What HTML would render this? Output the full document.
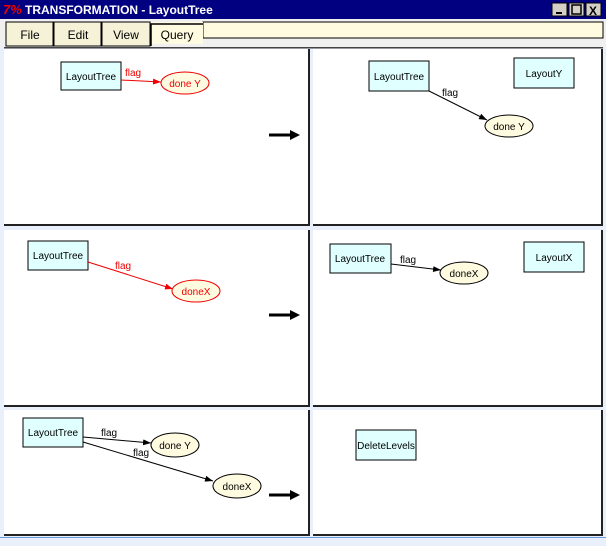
<!DOCTYPE html>
<html><head><style>
body{margin:0;width:606px;height:541px;overflow:hidden;background:#eaf0fb;font-family:"Liberation Sans",sans-serif;}
</style></head><body>
<svg width="606" height="541" xmlns="http://www.w3.org/2000/svg" font-family="Liberation Sans, sans-serif">
<defs>
<marker id="ab" markerWidth="8" markerHeight="6" refX="8" refY="3" orient="auto" markerUnits="userSpaceOnUse"><path d="M0,0L8,3L0,6z" fill="#000"/></marker>
<marker id="ar" markerWidth="8" markerHeight="6" refX="8" refY="3" orient="auto" markerUnits="userSpaceOnUse"><path d="M0,0L8,3L0,6z" fill="#e00"/></marker>
</defs>
<rect x="0" y="0" width="606" height="541" fill="#eaf0fb"/>
<!-- title bar -->
<rect x="0" y="0" width="606" height="19" fill="#000080"/>
<text x="3" y="14" font-size="13" font-weight="bold" fill="#e00" font-style="italic">7%</text>
<text x="25" y="14" font-size="12" font-weight="bold" fill="#fff">TRANSFORMATION - LayoutTree</text>
<g stroke="#000" fill="#d4d0c8">
<rect x="552" y="3" width="15" height="13"/><rect x="569" y="3" width="15" height="13"/><rect x="586" y="3" width="15" height="13"/>
</g>
<rect x="556" y="12" width="6" height="2" fill="#000"/>
<rect x="572" y="5" width="9" height="9" fill="none" stroke="#000" stroke-width="1.5"/>
<text x="589" y="15" font-size="12" font-weight="bold">X</text>
<!-- menu -->
<rect x="0" y="19" width="606" height="29" fill="#f0f0f0"/>
<rect x="203" y="22" width="400" height="16" fill="#fffbe0" stroke="#000" stroke-width="1"/>
<g fill="#f5f2d8" stroke="#000">
<rect x="6" y="22" width="47" height="24"/><rect x="54" y="22" width="47" height="24"/><rect x="102" y="22" width="48" height="24"/>
</g>
<rect x="151" y="22" width="52" height="22" fill="#fffbe0"/>
<path d="M151,46V24H203" fill="none" stroke="#000" stroke-width="1.5"/>
<g font-size="12" text-anchor="middle" fill="#000">
<text x="30" y="39">File</text><text x="78" y="39">Edit</text><text x="126" y="39">View</text><text x="177" y="39">Query</text>
</g>
<rect x="4" y="47" width="599" height="1.5" fill="#444"/>
<!-- panels -->
<g fill="#fff" stroke="#222" stroke-width="2">
<rect x="5" y="50" width="304" height="175"/>
<rect x="314" y="50" width="288" height="175"/>
<rect x="5" y="231" width="304" height="175"/>
<rect x="314" y="231" width="288" height="175"/>
<rect x="5" y="411" width="304" height="124"/>
<rect x="314" y="411" width="288" height="124"/>
</g>
<g fill="#fff">
<rect x="4" y="49" width="304" height="175"/><rect x="313" y="49" width="288" height="175"/>
<rect x="4" y="230" width="304" height="175"/><rect x="313" y="230" width="288" height="175"/>
<rect x="4" y="410" width="304" height="124"/><rect x="313" y="410" width="288" height="124"/>
</g>
<rect x="0" y="537" width="606" height="1" fill="#6a9be0"/>
<!-- big arrows -->
<g stroke="#000" stroke-width="3"><line x1="269" y1="135" x2="292" y2="135"/><line x1="269" y1="315" x2="292" y2="315"/><line x1="269" y1="495" x2="292" y2="495"/></g>
<g fill="#000"><path d="M290,130L300,135L290,140z"/><path d="M290,310L300,315L290,320z"/><path d="M290,490L300,495L290,500z"/></g>
<g font-size="10" text-anchor="middle">
<!-- panel 1 -->
<rect x="61" y="62" width="60" height="28" fill="#e0ffff" stroke="#000"/>
<text x="91" y="80">LayoutTree</text>
<line x1="121" y1="80" x2="161" y2="82" stroke="#e00" marker-end="url(#ar)"/>
<text x="133" y="76" fill="#e00">flag</text>
<ellipse cx="185" cy="83" rx="24" ry="11" fill="#fffbe0" stroke="#e00"/>
<text x="185" y="87" fill="#e00">done Y</text>
<!-- panel 2 -->
<rect x="369" y="61" width="60" height="30" fill="#e0ffff" stroke="#000"/>
<text x="399" y="80">LayoutTree</text>
<rect x="514" y="58" width="60" height="30" fill="#e0ffff" stroke="#000"/>
<text x="544" y="77">LayoutY</text>
<line x1="429" y1="91" x2="487" y2="120" stroke="#000" marker-end="url(#ab)"/>
<text x="450" y="96">flag</text>
<ellipse cx="509" cy="126" rx="24" ry="11" fill="#fffbe0" stroke="#000"/>
<text x="509" y="130">done Y</text>
<!-- panel 3 -->
<rect x="28" y="241" width="60" height="29" fill="#e0ffff" stroke="#000"/>
<text x="58" y="259">LayoutTree</text>
<line x1="88" y1="262" x2="173" y2="289" stroke="#e00" marker-end="url(#ar)"/>
<text x="123" y="269" fill="#e00">flag</text>
<ellipse cx="196" cy="291" rx="24" ry="11" fill="#fffbe0" stroke="#e00"/>
<text x="196" y="295" fill="#e00">doneX</text>
<!-- panel 4 -->
<rect x="330" y="244" width="61" height="29" fill="#e0ffff" stroke="#000"/>
<text x="360" y="262">LayoutTree</text>
<rect x="524" y="242" width="60" height="30" fill="#e0ffff" stroke="#000"/>
<text x="554" y="261">LayoutX</text>
<line x1="391" y1="264" x2="441" y2="270" stroke="#000" marker-end="url(#ab)"/>
<text x="408" y="263">flag</text>
<ellipse cx="464" cy="273" rx="24" ry="11" fill="#fffbe0" stroke="#000"/>
<text x="464" y="277">doneX</text>
<!-- panel 5 -->
<rect x="23" y="418" width="60" height="29" fill="#e0ffff" stroke="#000"/>
<text x="53" y="436">LayoutTree</text>
<line x1="83" y1="437" x2="151" y2="443" stroke="#000" marker-end="url(#ab)"/>
<line x1="83" y1="442" x2="213" y2="481" stroke="#000" marker-end="url(#ab)"/>
<text x="109" y="436">flag</text>
<text x="141" y="456">flag</text>
<ellipse cx="175" cy="445" rx="24" ry="12" fill="#fffbe0" stroke="#000"/>
<text x="175" y="449">done Y</text>
<ellipse cx="237" cy="486" rx="24" ry="12" fill="#fffbe0" stroke="#000"/>
<text x="237" y="490">doneX</text>
<!-- panel 6 -->
<rect x="356" y="430" width="60" height="30" fill="#e0ffff" stroke="#000"/>
<text x="386" y="449">DeleteLevels</text>
</g>
</svg>
</body></html>
